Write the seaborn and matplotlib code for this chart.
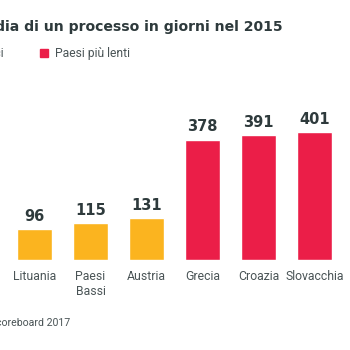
import pandas as pd
import matplotlib.pyplot as plt
import seaborn as sns

# dati
paesi = ['Lituania', 'Paesi\nBassi', 'Austria', 'Grecia', 'Croazia', 'Slovacchia']
giorni = [96, 115, 131, 378, 391, 401]
gruppo = ['Paesi più veloci'] * 3 + ['Paesi più lenti'] * 3
colori = {'Paesi più veloci': '#FBB41F', 'Paesi più lenti': '#EB1E48'}

df = pd.DataFrame({'paese': paesi, 'giorni': giorni, 'gruppo': gruppo})

sns.set_style('white')
plt.rcParams['font.family'] = ['Roboto', 'DejaVu Sans']

W = 350
fig = plt.figure(figsize=(3.5, 3.5), dpi=100)
scala = 0.3185  # px per giorno
ax = fig.add_axes([6.5 / W, 90 / W, 336 / W, 450 * scala / W])

sns.barplot(data=df, x='paese', y='giorni', hue='gruppo', palette=colori,
            width=0.625, dodge=False, legend=False, ax=ax, saturation=1)

for c in ax.containers:
    ax.bar_label(c, padding=4, fontsize=10.5, fontweight='bold',
                 color='#2E3A3C', family='DejaVu Sans')

ax.set_xlim(-0.5, 5.5)
ax.set_ylim(0, 450)
ax.set_xlabel('')
ax.set_ylabel('')
ax.set_yticks([])
ax.tick_params(axis='x', length=0, pad=7, labelsize=8.8, labelcolor='#4A5456')
sns.despine(ax=ax, left=True, bottom=True)

# titolo (tagliato a sinistra come nell'originale)
fig.text(283 / W, 1 - 27 / W, 'Durata media di un processo in giorni nel 2015',
         ha='right', va='center', fontsize=10.1, fontweight='bold',
         color='#2E3A3C', family='DejaVu Sans')

# legenda
fig.text(4 / W, 1 - 53 / W, 'Paesi più veloci', ha='right', va='center',
         fontsize=8.5, color='#4A5456')
fig.patches.append(plt.Rectangle((40 / W, 1 - 57 / W), 8 / W, 8 / W,
                                 color=colori['Paesi più lenti'],
                                 transform=fig.transFigure, figure=fig))
fig.text(55 / W, 1 - 53 / W, 'Paesi più lenti', ha='left', va='center',
         fontsize=8.7, color='#4A5456')

# fonte
fig.text(70 / W, 1 - 323 / W, 'Fonte: EU Justice Scoreboard 2017', ha='right',
         va='center', fontsize=7.6, color='#4A5456')

fig.savefig('out.png', dpi=100)
